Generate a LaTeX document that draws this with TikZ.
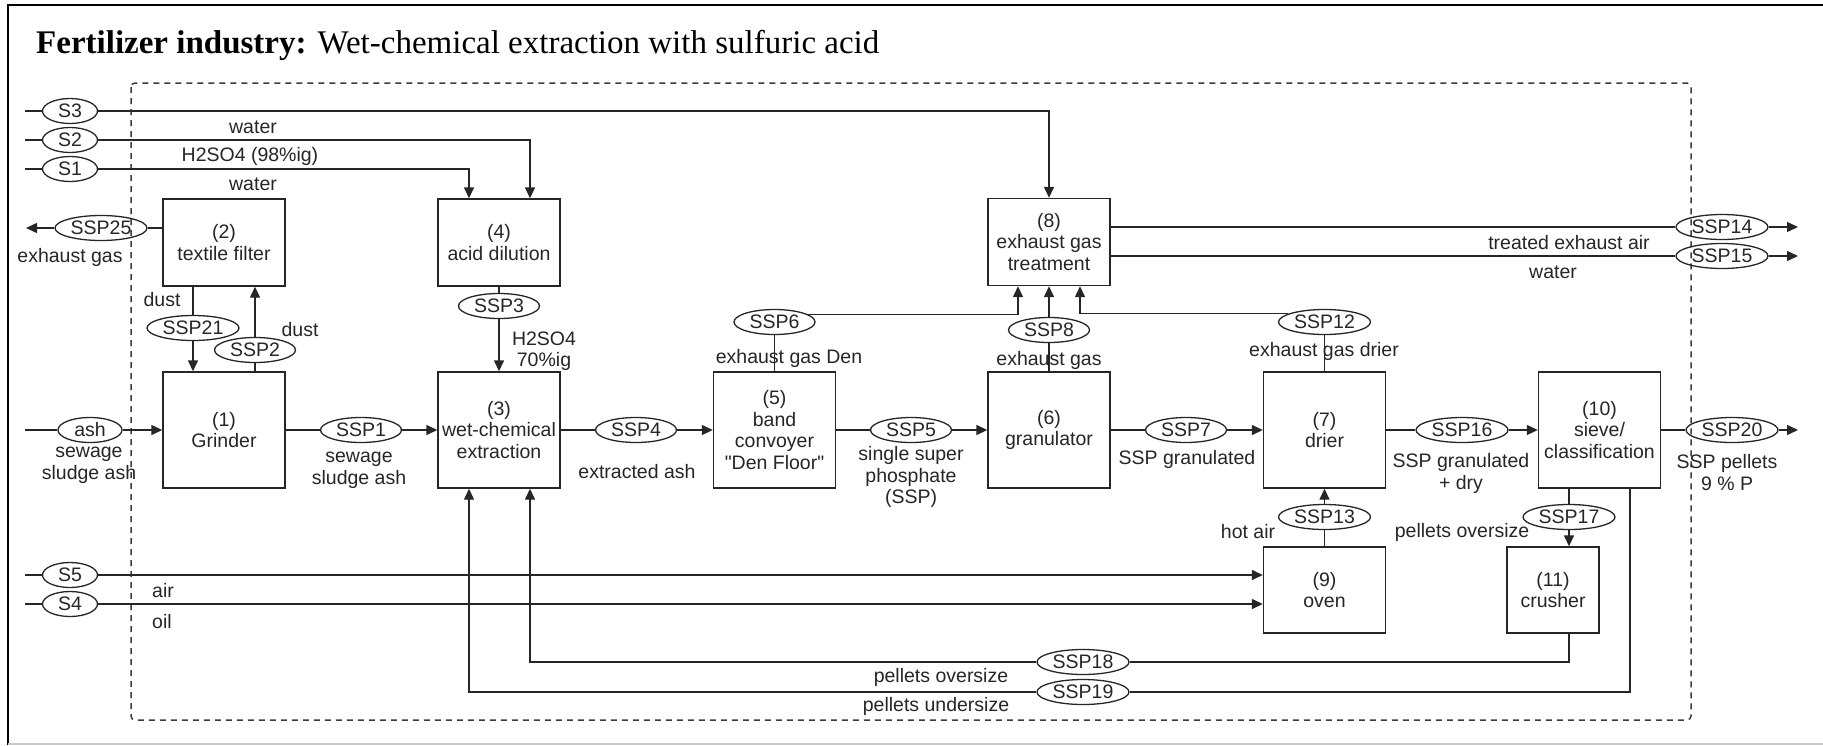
\documentclass[tikz,border=0pt]{standalone}
\usepackage{fontspec}
\setmainfont{Liberation Sans}
\newfontfamily\titlefont{Liberation Serif}
\usetikzlibrary{shapes.geometric,arrows.meta,calc}
\definecolor{ink}{HTML}{262626}
% straight double quote, set as a glyph so the TeX ligature mapping leaves it alone
\newcommand\straightquote{\XeTeXglyph\XeTeXcharglyph"22\relax}

\begin{document}
\begin{tikzpicture}[x=1pt,y=-1pt,
  every node/.style={text=ink, font=\fontsize{19.5}{21.5}\selectfont},
  proc/.style={draw=ink, line width=1.4pt, align=center, inner sep=0pt,
               minimum width=122pt, minimum height=116pt},
  procshort/.style={proc, minimum height=87pt},
  port/.style={ellipse, draw=ink, line width=1.3pt, inner sep=0pt,
               minimum height=25pt, minimum width=81pt},
  portw/.style={port, minimum width=92pt},
  src/.style={port, minimum width=55pt},
  lbl/.style={align=center, inner sep=0pt},
  link/.style={draw=ink, line width=1.4pt},
  flow/.style={link, -{Triangle[length=11pt,width=10pt]}}]

\useasboundingbox (0,0) rectangle (1823,745);
\fill[white] (0,0) rectangle (1823,745);

% frame and title
\draw[black, line width=2.6pt] (8,745) -- (8,5) -- (1823,5);
\draw[black!20, line width=1.5pt] (8,744) -- (1823,744);
\node[anchor=base west, inner sep=0pt, text=black] (title) at (36,53)
  {\titlefont\fontsize{33}{36}\selectfont\textbf{Fertilizer industry:} Wet-chemical extraction with sulfuric acid};

% system boundary
\draw[ink!90, line width=1.5pt, dash pattern=on 6pt off 5pt, rounded corners=4pt]
  (131,83) rectangle (1691,720);

% process units
\node[proc]      (b1)  at (224,430)    {(1)\\Grinder};
\node[procshort] (b2)  at (224,242.5)  {(2)\\textile filter};
\node[proc]      (b3)  at (499,430)    {(3)\\wet-chemical\\extraction};
\node[procshort] (b4)  at (499,242.5)  {(4)\\acid dilution};
\node[proc]      (b5)  at (774.5,430)  {(5)\\band\\convoyer\\\straightquote Den Floor\straightquote};
\node[proc]      (b6)  at (1049,430)   {(6)\\granulator};
\node[proc]      (b7)  at (1324.5,430) {(7)\\drier};
\node[procshort] (b8)  at (1049,242)   {(8)\\exhaust gas\\treatment};
\node[proc, minimum height=86pt] (b9) at (1324.5,590) {(9)\\oven};
\node[proc]      (b10) at (1599.5,430) {(10)\\sieve/\\classification};
\node[proc, minimum width=92pt, minimum height=86pt] (b11) at (1553,590) {(11)\\crusher};

% sources
\node[src] (s3) at (70,111) {S3};
\node[src] (s2) at (70,140) {S2};
\node[src] (s1) at (70,169) {S1};
\node[src] (s5) at (70,575) {S5};
\node[src] (s4) at (70,604) {S4};
\node[port, minimum width=64pt] (ash) at (90,430) {ash};

% streams
\node[portw] (ssp25) at (101,228)    {SSP25};
\node[portw] (ssp21) at (193,328)    {SSP21};
\node[port]  (ssp2)  at (255,350)    {SSP2};
\node[port]  (ssp1)  at (361,430)    {SSP1};
\node[port]  (ssp3)  at (499,306)    {SSP3};
\node[port]  (ssp4)  at (636,430)    {SSP4};
\node[port]  (ssp5)  at (911,430)    {SSP5};
\node[port]  (ssp6)  at (774.5,322)  {SSP6};
\node[port]  (ssp8)  at (1049,330)   {SSP8};
\node[port]  (ssp7)  at (1186,430)   {SSP7};
\node[portw] (ssp12) at (1324.5,322) {SSP12};
\node[portw] (ssp16) at (1462,430)   {SSP16};
\node[portw] (ssp20) at (1732,430)   {SSP20};
\node[portw] (ssp14) at (1722,227)   {SSP14};
\node[portw] (ssp15) at (1722,256)   {SSP15};
\node[portw] (ssp13) at (1324.5,517) {SSP13};
\node[portw] (ssp17) at (1569,517)   {SSP17};
\node[portw] (ssp18) at (1083,662)   {SSP18};
\node[portw] (ssp19) at (1083,692)   {SSP19};

% free line ends and docking points
\coordinate (s3in) at (25,111);
\coordinate (s2in) at (25,140);
\coordinate (s1in) at (25,169);
\coordinate (s5in) at (25,575);
\coordinate (s4in) at (25,604);
\coordinate (ashin) at (25,430);
\coordinate (out25) at (26,228);
\coordinate (out14) at (1798,227);
\coordinate (out15) at (1798,256);
\coordinate (out20) at (1798,430);
\coordinate (in4a) at ($(b4.north)+(-30,0)$);
\coordinate (in4b) at ($(b4.north)+(31,0)$);
\coordinate (in3a) at ($(b3.south)+(-30,0)$);
\coordinate (in3b) at ($(b3.south)+(31,0)$);
\coordinate (in8a) at ($(b8.south)+(-31,0)$);
\coordinate (in8c) at ($(b8.south)+(31,0)$);
\coordinate (o10) at ($(b10.south)+(30.5,0)$);

% feeds from the left
\draw[link] (s3in) -- (s3);
\draw[flow] (s3) -| (b8.north);
\draw[link] (s2in) -- (s2);
\draw[flow] (s2) -| (in4b);
\draw[link] (s1in) -- (s1);
\draw[flow] (s1) -| (in4a);
\draw[link] (s5in) -- (s5);
\draw[flow] (s5) -- (s5 -| b9.west);
\draw[link] (s4in) -- (s4);
\draw[flow] (s4) -- (s4 -| b9.west);

% grinder and filter
\draw[link] (ashin) -- (ash);
\draw[flow] (ash) -- (b1.west);
\draw[link] (b2.west |- ssp25) -- (ssp25);
\draw[flow] (ssp25) -- (out25);
\draw[link] (ssp21 |- b2.south) -- (ssp21);
\draw[flow] (ssp21) -- (ssp21 |- b1.north);
\draw[link] (ssp2 |- b1.north) -- (ssp2);
\draw[flow] (ssp2) -- (ssp2 |- b2.south);

% main line
\draw[link] (b1.east) -- (ssp1);
\draw[flow] (ssp1) -- (b3.west);
\draw[link] (b4.south) -- (ssp3);
\draw[flow] (ssp3) -- (b3.north);
\draw[link] (b3.east) -- (ssp4);
\draw[flow] (ssp4) -- (b5.west);
\draw[link] (b5.east) -- (ssp5);
\draw[flow] (ssp5) -- (b6.west);
\draw[link] (b6.east) -- (ssp7);
\draw[flow] (ssp7) -- (b7.west);
\draw[link] (b7.east) -- (ssp16);
\draw[flow] (ssp16) -- (b10.west);
\draw[link] (b10.east) -- (ssp20);
\draw[flow] (ssp20) -- (out20);

% exhaust gas collection
\draw[link] (b5.north) -- (ssp6);
\draw[flow] (ssp6.13) -| (in8a);
\draw[link] (b6.north) -- (ssp8);
\draw[flow] (ssp8) -- (b8.south);
\draw[link] (b7.north) -- (ssp12);
\draw[flow] (ssp12.167) -| (in8c);
\draw[link] (b8.east |- ssp14) -- (ssp14);
\draw[flow] (ssp14) -- (out14);
\draw[link] (b8.east |- ssp15) -- (ssp15);
\draw[flow] (ssp15) -- (out15);

% oven, sieve, crusher and returns
\draw[link] (b9.north) -- (ssp13);
\draw[flow] (ssp13) -- (b7.south);
\draw[link] (ssp17 |- b10.south) -- (ssp17);
\draw[flow] (ssp17) -- (ssp17 |- b11.north);
\draw[link] (ssp17 |- b11.south) -- (ssp17 |- ssp18) -- (ssp18);
\draw[flow] (ssp18) -| (in3b);
\draw[link] (o10) |- (ssp19);
\draw[flow] (ssp19) -| (in3a);

% stream labels
\node[lbl] (l1)  at (253,127)  {water};
\node[lbl] (l2)  at (250,156)  {H2SO4 (98\%ig)};
\node[lbl] (l3)  at (253,184)  {water};
\node[lbl] (l4)  at (70,257)   {exhaust gas};
\node[lbl] (l5)  at (162,300)  {dust};
\node[lbl] (l6)  at (300,330)  {dust};
\node[lbl] (l7)  at (89,465.5) {sewage\\sludge ash};
\node[lbl] (l8)  at (359,470.5) {sewage\\sludge ash};
\node[lbl] (l9)  at (544,351)  {H2SO4\\70\%ig};
\node[lbl] (l10) at (637,472)  {extracted ash};
\node[lbl] (l11) at (789,358)  {exhaust gas Den};
\node[lbl] (l12) at (911,477)  {single super\\phosphate\\(SSP)};
\node[lbl] (l13) at (1049,360) {exhaust gas};
\node[lbl] (l14) at (1187,459) {SSP granulated};
\node[lbl] (l15) at (1324,351) {exhaust gas drier};
\node[lbl] (l16) at (1461,473.5) {SSP granulated\\+ dry};
\node[lbl] (l17) at (1727,472.5) {SSP pellets\\9 \% P};
\node[lbl] (l18) at (1569,243) {treated exhaust air};
\node[lbl] (l19) at (1553,272) {water};
\node[lbl] (l20) at (1248,532) {hot air};
\node[lbl] (l21) at (1462,532) {pellets oversize};
\node[lbl] (l22) at (163,591)  {air};
\node[lbl] (l23) at (162,622)  {oil};
\node[lbl] (l24) at (941,677)  {pellets oversize};
\node[lbl] (l25) at (936,706)  {pellets undersize};
\end{tikzpicture}
\end{document}
